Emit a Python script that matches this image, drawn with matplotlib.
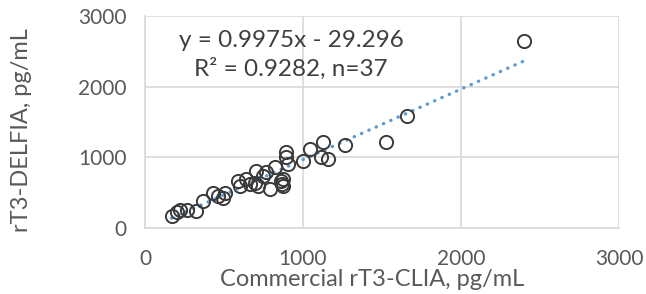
import matplotlib.pyplot as plt
import numpy as np

plt.rcParams['font.family'] = ['Lato', 'DejaVu Sans']

# Commercial rT3-CLIA (x) vs rT3-DELFIA (y), pg/mL
clia = [168, 204, 221, 263, 322, 368, 432, 463, 505, 495,
        589, 600, 642, 663, 695, 705, 716, 747, 768, 789,
        821, 863, 869, 875, 872, 895, 895, 905, 1000, 1042,
        1126, 1116, 1158, 1263, 1526, 1659, 2398]
delfia = [167, 229, 248, 248, 238, 381, 500, 452, 500, 419,
          667, 595, 690, 619, 643, 810, 595, 738, 786, 548,
          857, 667, 619, 690, 590, 1071, 1000, 905, 952, 1119,
          1214, 1000, 976, 1180, 1223, 1583, 2650]
slope = 0.9975
intercept = -29.296
eq_text = 'y = 0.9975x - 29.296\nR² = 0.9282, n=37'
ticks = [0, 1000, 2000, 3000]

fig = plt.figure(figsize=(6.46, 2.94), dpi=100)
ax = fig.add_axes([145 / 646, 1 - 228 / 294, (619 - 145) / 646, (228 - 16) / 294])

xs = np.array([min(clia), max(clia)])
ax.plot(xs, slope * xs + intercept, color='#5B9BD5', lw=2.4,
        linestyle=(0, (0.1, 2.3)), dash_capstyle='round', zorder=2)
ax.plot(clia, delfia, 'o', ms=9.5, mfc='none', mec='#3a3a3a', mew=1.4, zorder=3)

ax.set_xlim(0, 3000)
ax.set_ylim(0, 3000)
ax.set_xticks(ticks)
ax.set_yticks(ticks)
ax.grid(True, color='#D9D9D9', lw=1.2)
ax.set_axisbelow(True)
for s in ['top', 'right']:
    ax.spines[s].set_visible(False)
for s in ['left', 'bottom']:
    ax.spines[s].set_color('#D9D9D9')
    ax.spines[s].set_linewidth(1.2)
ax.tick_params(length=0, labelsize=15, colors='#595959')
ax.tick_params(axis='x', pad=15)
ax.tick_params(axis='y', pad=13)

ax.set_xlabel('Commercial rT3-CLIA, pg/mL', fontsize=17, color='#595959')
ax.xaxis.label.set_va('center')
ax.xaxis.set_label_coords(0.48, -0.245)
ax.set_ylabel('rT3-DELFIA, pg/mL', fontsize=17, color='#595959')
ax.yaxis.label.set_va('center')
ax.yaxis.set_label_coords(-0.26, 0.46)

ax.text(926, 2800, eq_text, ha='center', va='top', fontsize=17.5,
        color='#404040', linespacing=1.35)

fig.savefig('out.png', dpi=100)
